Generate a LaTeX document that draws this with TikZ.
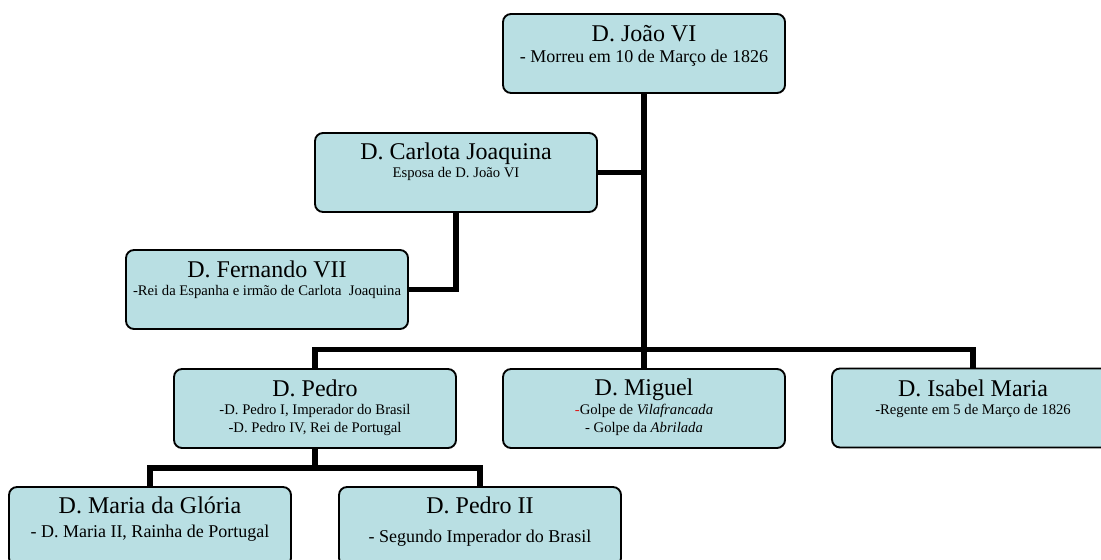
\documentclass[tikz,border=0pt]{standalone}
\usepackage{fontspec}
\setmainfont{Liberation Serif}[ItalicFont={Liberation Serif Italic},BoldFont={Liberation Serif Bold}]
\definecolor{boxfill}{RGB}{185,223,227}
\definecolor{dashred}{RGB}{220,30,30}
\begin{document}
\begin{tikzpicture}[x=0.75pt,y=-0.75pt,
  fambox/.style={draw=black,line width=1.4pt,fill=boxfill,rounded corners=6pt,
    minimum width=211.5pt,minimum height=59.25pt,inner sep=0pt,outer sep=0pt},
  link/.style={line width=4.2pt,line join=miter,line cap=butt},
  ttl/.style={anchor=base,font=\fontsize{18}{20}\selectfont,inner sep=0pt},
  sbig/.style={anchor=base,font=\fontsize{13.5}{15}\selectfont,inner sep=0pt},
  ssm/.style={anchor=base,font=\fontsize{11}{13}\selectfont,inner sep=0pt}]
\useasboundingbox (0,0) rectangle (1101,560);
\clip (0,0) rectangle (1101,560);

% boxes
\node[fambox] (jo) at (644,53.5) {};
\node[fambox] (ca) at (456,172.5) {};
\node[fambox] (fe) at (267,289.5) {};
\node[fambox] (pe) at (315,408.5) {};
\node[fambox] (mi) at (644,408.5) {};
\node[fambox] (is) at (973,408) {};
\node[fambox] (ma) at (150,526.5) {};
\node[fambox] (p2) at (480,526.5) {};

% texts
\node[ttl]  (jot) at (644,42) {D. João VI};
\node[sbig] (jos) at (644,63) {- Morreu em 10 de Março de 1826};
\node[ttl]  (cat) at (456,160) {D. Carlota Joaquina};
\node[ssm]  (cas) at (456,178) {Esposa de D. João VI};
\node[ttl]  (fet) at (267,277) {D. Fernando VII};
\node[ssm]  (fes) at (267,295) {-Rei da Espanha e irmão de Carlota\hspace{0.5em}Joaquina};
\node[ttl]  (pet) at (315,396) {D. Pedro};
\node[ssm]  (pes1) at (315,414) {-D. Pedro I, Imperador do Brasil};
\node[ssm]  (pes2) at (315,432) {-D. Pedro IV, Rei de Portugal};
\node[ttl]  (mit) at (644,395) {D. Miguel};
\node[ssm]  (mis1) at (644,414) {\textcolor{dashred}{-}Golpe de \textit{Vilafrancada}};
\node[ssm]  (mis2) at (644,432) {- Golpe da \textit{Abrilada}};
\node[ttl]  (ist) at (973,396) {D. Isabel Maria};
\node[ssm]  (iss) at (973,414) {-Regente em 5 de Março de 1826};
\node[ttl]  (mat) at (150,513) {D. Maria da Glória};
\node[sbig] (mas) at (150,537) {- D. Maria II, Rainha de Portugal};
\node[ttl]  (p2t) at (480,513) {D. Pedro II};
\node[sbig] (p2s) at (480,542) {- Segundo Imperador do Brasil};

% connectors
\coordinate (b1) at (644,349.5);
\coordinate (b2) at (315,468);
\draw[link] (jo.south) -- (mi.north);
\draw[link] (pe.north) |- (b1) -| (is.north);
\draw[link] (ca.east) -- (ca.east -| jo.south);
\draw[link] (ca.south) |- (fe.east);
\draw[link] (pe.south) -- (b2);
\draw[link] (ma.north) |- (b2) -| (p2.north);
\end{tikzpicture}
\end{document}
